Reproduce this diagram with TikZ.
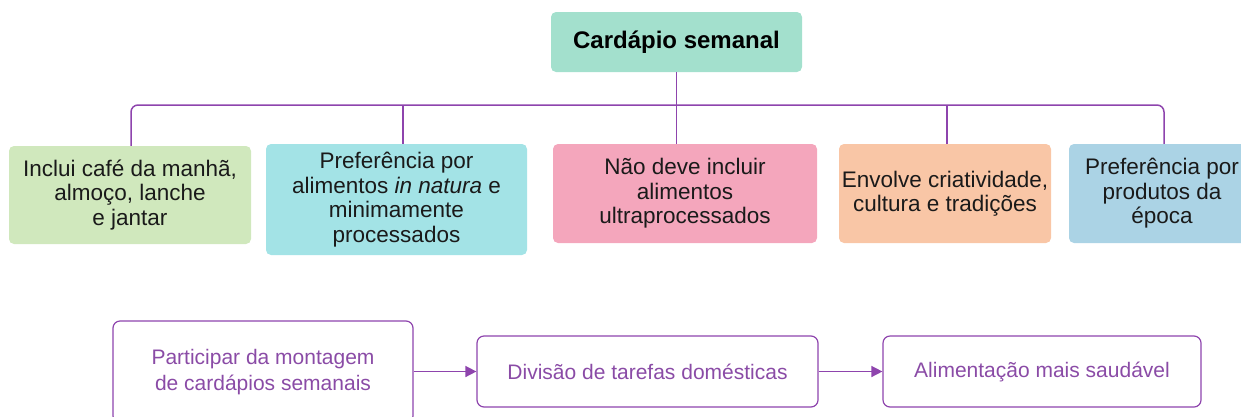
\documentclass[tikz,border=0pt]{standalone}
\usepackage{fontspec}
\setmainfont{Liberation Sans}
\usetikzlibrary{arrows.meta}
\definecolor{mint}{HTML}{A3E0CD}
\definecolor{lgreen}{HTML}{D0E8BD}
\definecolor{lcyan}{HTML}{A3E3E6}
\definecolor{lpink}{HTML}{F4A6BC}
\definecolor{lorange}{HTML}{F9C6A6}
\definecolor{lblue}{HTML}{ABD3E5}
\definecolor{linep}{HTML}{8E44AD}
\definecolor{textp}{HTML}{8A4BA6}
\definecolor{darktext}{HTML}{1A1A1A}
\tikzset{
  topbox/.style={draw=none, rounded corners=5pt, inner sep=0pt, align=center,
    text=darktext, font=\fontsize{22.5}{24.5}\selectfont},
  flowbox/.style={draw=linep, line width=1.2pt, rounded corners=7pt, inner sep=0pt,
    align=center, text=textp, font=\fontsize{21}{26}\selectfont},
  conn/.style={draw=linep, line width=1.5pt},
  flowarrow/.style={draw=linep, line width=1.5pt, -{Triangle[length=11pt,width=11pt]}}
}
\begin{document}
\begin{tikzpicture}[x=1pt,y=-1pt]
\useasboundingbox (0,0) rectangle (1241,416);
\clip (0,0) rectangle (1241,416);
\node[topbox, fill=mint, minimum width=251pt, minimum height=60pt,
  font=\fontsize{24}{28}\selectfont\bfseries, text=black] (title) at (676.5,42) {Cardápio semanal};
\node[topbox, fill=lgreen, minimum width=242pt, minimum height=98pt] (b1) at (130,195)
  {Inclui café da manhã,\\almoço, lanche\\e jantar};
\node[topbox, fill=lcyan, minimum width=261pt, minimum height=111pt] (b2) at (396.5,199.5)
  {Preferência por\\alimentos \textit{in natura} e\\minimamente\\processados};
\node[topbox, fill=lpink, minimum width=264pt, minimum height=99pt] (b3) at (685,193.5)
  {Não deve incluir\\alimentos\\ultraprocessados};
\node[topbox, fill=lorange, minimum width=212pt, minimum height=99pt] (b4) at (945,193.5)
  {Envolve criatividade,\\cultura e tradições};
\node[topbox, fill=lblue, minimum width=186pt, minimum height=99pt] (b5) at (1162,193.5)
  {Preferência por\\produtos da\\época};
\coordinate (j1) at (131,105);
\coordinate (j2) at (403,105);
\coordinate (j4) at (947,105);
\coordinate (j5) at (1164,105);
\draw[conn, rounded corners=7pt] (j1 |- b1.north) -- (j1) -- (j5) -- (j5 |- b5.north);
\draw[conn] (j2) -- (j2 |- b2.north);
\draw[conn] (j4) -- (j4 |- b4.north);
\draw[conn] (title.south) -- (title.south |- b3.north);
\node[flowbox, minimum width=300pt, minimum height=102pt] (fa) at (263,372)
  {Participar da montagem\\de cardápios semanais};
\node[flowbox, minimum width=341pt, minimum height=71pt] (fb) at (647.5,371.5)
  {Divisão de tarefas domésticas};
\node[flowbox, minimum width=318pt, minimum height=71pt] (fc) at (1042,371.5)
  {Alimentação mais saudável};
\draw[flowarrow] (fa.east |- fb.west) -- (fb.west);
\draw[flowarrow] (fb.east) -- (fc.west);
\end{tikzpicture}
\end{document}
